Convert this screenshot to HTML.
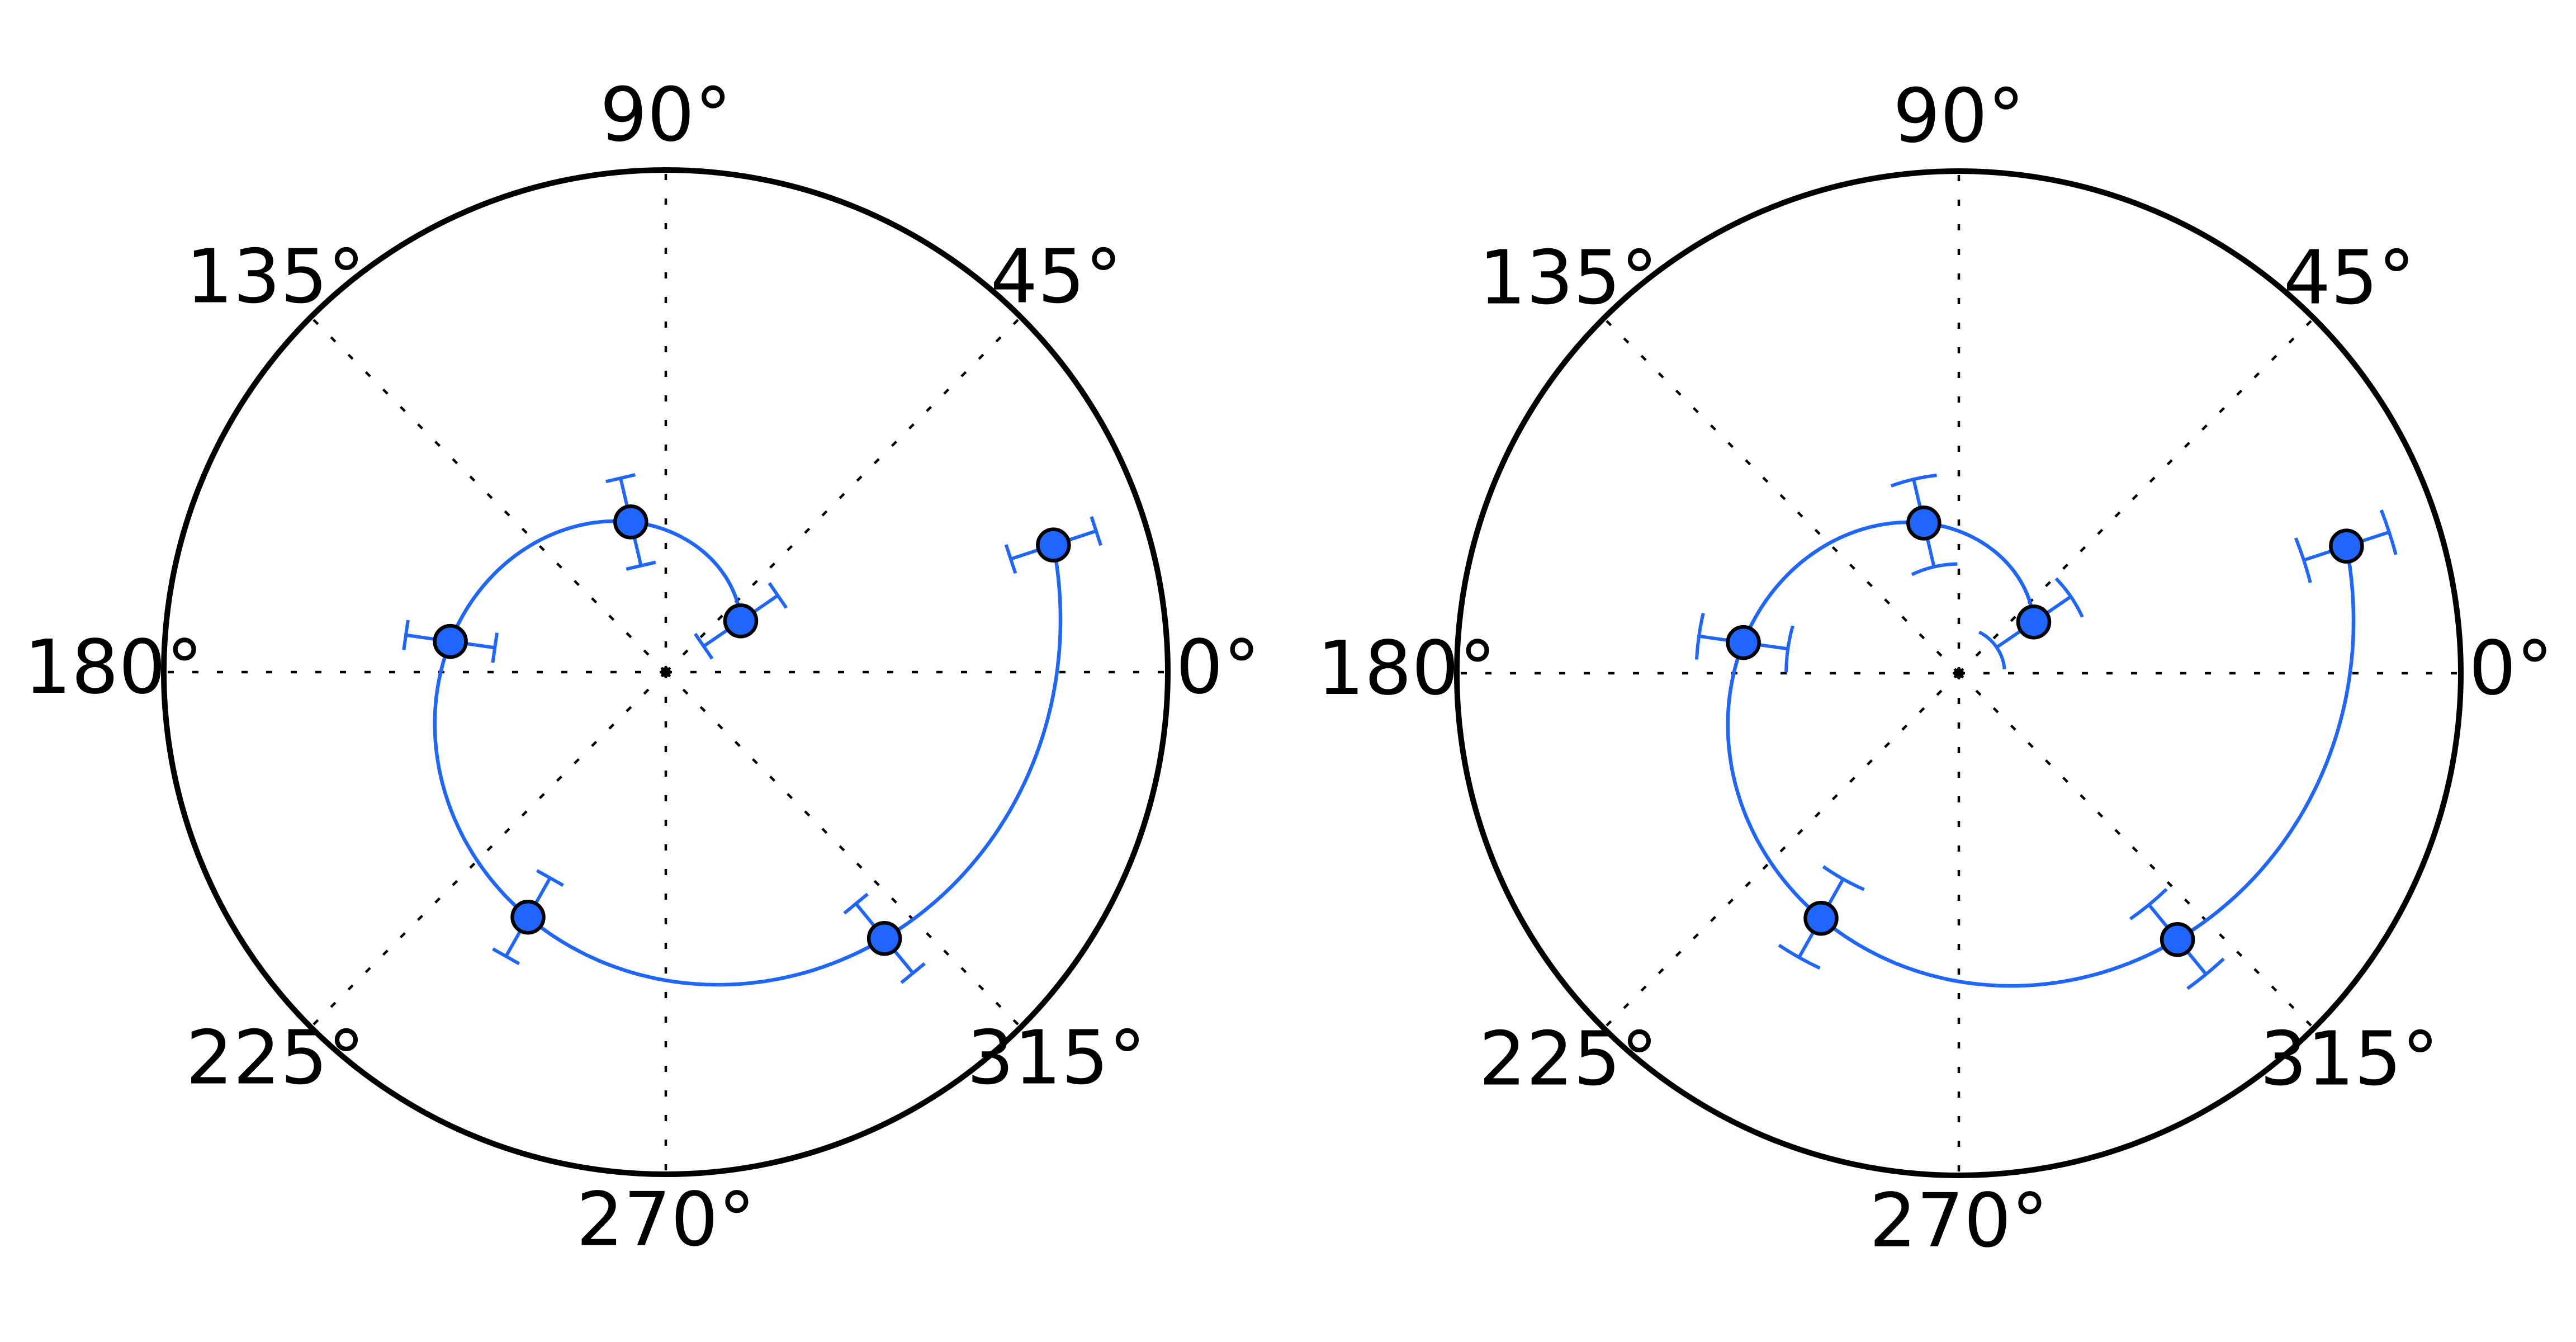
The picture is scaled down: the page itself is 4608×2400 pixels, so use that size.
<!DOCTYPE html>
<html><head><meta charset="utf-8"><style>
html,body{margin:0;padding:0;background:#fff;}
svg{display:block;}
text{font-family:"DejaVu Sans","Liberation Sans",sans-serif;font-size:133px;fill:#000;}
</style></head><body>
<svg id="fig" width="4608" height="2400" viewBox="0 0 4608 2400" xmlns="http://www.w3.org/2000/svg"></svg>
<script>
// data
const thetaVals = [0.6, 1.8, 3.0, 4.2, 5.4, 6.6];
const rVals = [0.6, 1.8, 3.0, 4.2, 5.4, 6.6];
const rErr = [0.85, 0.85, 0.85, 0.85, 0.85, 0.85];
const angleTicks = [0, 45, 90, 135, 180, 225, 270, 315];
const angleLabels = ["0°","45°","90°","135°","180°","225°","270°","315°"];

const NS = "http://www.w3.org/2000/svg";
const svg = document.getElementById('fig');
const R = 898, RMIN = -1.117, RMAX = 8.38;
const BLUE = "#1f66ff";
function mk(tag, attrs, parent){ const e=document.createElementNS(NS,tag); for(const k in attrs) e.setAttribute(k,attrs[k]); (parent||svg).appendChild(e); return e; }
function rpx(r){ return (r-RMIN)/(RMAX-RMIN)*R; }

function drawPanel(cx, cy, arcCaps, idx){
  const g = mk('g',{});
  
  
  const P = (th, rp) => [cx + rp*Math.cos(th), cy - rp*Math.sin(th)];
  angleTicks.forEach((a,i)=>{
    const th=a*Math.PI/180; const [x,y]=P(th,R);
    const l=mk('line',{x1:cx,y1:cy,x2:x,y2:y,stroke:'#000','stroke-width':4.5,'stroke-dasharray':'11 33'},g);
    
    
  });
  const dot=mk('circle',{cx:cx,cy:cy,r:9,fill:'#000'},g);
  
  
  const fr=mk('circle',{cx:cx,cy:cy,r:R,fill:'none',stroke:'#000','stroke-width':10},g);
  
  
  angleTicks.forEach((a,i)=>{
    const th=a*Math.PI/180; const [x,y]=P(th,R*1.1);
    const t=mk('text',{x:x,y:y+37,'text-anchor':'middle'},g);
    t.textContent=angleLabels[i];
    
    
  });
  let d='';
  const t0=thetaVals[0], t1=thetaVals[thetaVals.length-1], N=300;
  const r0=rVals[0], r1=rVals[rVals.length-1];
  for(let k=0;k<=N;k++){
    const th=t0+(t1-t0)*k/N; const rr=r0+(r1-r0)*k/N;
    const [x,y]=P(th,rpx(rr)); d+=(k?'L':'M')+x.toFixed(1)+' '+y.toFixed(1);
  }
  const ln=mk('path',{d:d,fill:'none',stroke:BLUE,'stroke-width':6.5},g);
  
  
  thetaVals.forEach((th,i)=>{
    const rin=rpx(rVals[i]-rErr[i]), rout=rpx(rVals[i]+rErr[i]);
    const [x1,y1]=P(th,rin), [x2,y2]=P(th,rout);
    const eb=mk('g',{},g);
    
    
    mk('line',{x1:x1,y1:y1,x2:x2,y2:y2,stroke:BLUE,'stroke-width':6},eb);
    [rin,rout].forEach(rr=>{
      if(arcCaps){
        const da=42/rr; const [ax,ay]=P(th-da,rr), [bx,by]=P(th+da,rr);
        mk('path',{d:`M${ax} ${ay}A${rr} ${rr} 0 0 0 ${bx} ${by}`,fill:'none',stroke:BLUE,'stroke-width':6},eb);
      } else {
        const [px,py]=P(th,rr); const nx=-Math.sin(th)*27, ny=-Math.cos(th)*27;
        mk('line',{x1:px-nx,y1:py-ny,x2:px+nx,y2:py+ny,stroke:BLUE,'stroke-width':6},eb);
      }
    });
  });
  thetaVals.forEach((th,i)=>{
    const [x,y]=P(th,rpx(rVals[i]));
    const m=mk('circle',{cx:x,cy:y,r:28,fill:BLUE,stroke:'#000','stroke-width':6.5},g);
    
    
  });
}
drawPanel(1191, 1202, false, 1);
drawPanel(3504, 1204, true, 2);
</script>
</body></html>
